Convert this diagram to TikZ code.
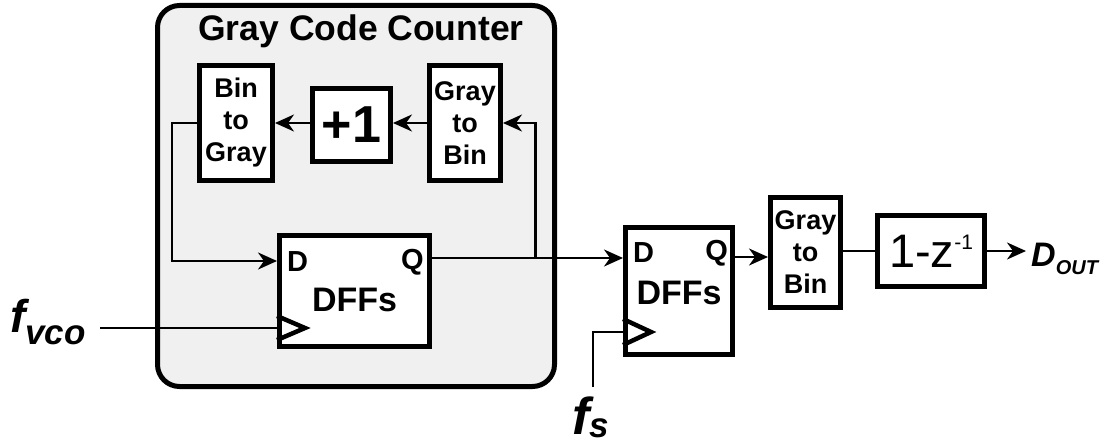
\documentclass[tikz,border=0pt]{standalone}
\usepackage{fontspec}
\setmainfont{Liberation Sans}
\usetikzlibrary{arrows.meta,calc}
\definecolor{panel}{HTML}{F0F0F0}
\newcommand{\myfs}[2]{\fontsize{#1}{#2}\selectfont}
\begin{document}
\begin{tikzpicture}[x=1pt,y=-1pt,
  blk/.style={draw, line width=5pt, fill=white, inner sep=0pt, align=center},
  small/.style={font=\bfseries\myfs{27}{32}},
  wire/.style={line width=2.2pt},
  arr/.style={wire,-{Stealth[length=19pt,width=17pt,inset=6pt]}},
  clk/.style={line width=4.5pt, line join=miter},
  lbl/.style={font=\bfseries\myfs{29}{29}, inner sep=0pt},
]
\useasboundingbox (0,0) rectangle (1110,446);
% counter panel
\node[draw, line width=5pt, rounded corners=22pt, fill=panel, minimum width=397pt, minimum height=381pt] (gcc) at (356,196) {};
\node[font=\bfseries\myfs{35.5}{35.5}] (title) at (361,31) {Gray Code Counter};
% blocks
\node[blk, small, minimum width=73pt, minimum height=115pt] (btg) at (236,123) {Bin\\to\\Gray};
\node[blk, font=\bfseries\myfs{52}{52}, minimum width=78pt, minimum height=73pt] (plus) at (351.5,125) {+1};
\node[blk, small, minimum width=71pt, minimum height=115pt] (gtb1) at (465,123) {Gray\\to\\Bin};
\node[blk, minimum width=150pt, minimum height=111pt] (dff1) at (354.5,291) {};
\node[blk, minimum width=107pt, minimum height=127pt] (dff2) at (679,291) {};
\node[blk, small, minimum width=70pt, minimum height=110pt] (gtb2) at (805.5,252.5) {Gray\\to\\Bin};
\node[blk, font=\myfs{47}{47}, minimum width=107pt, minimum height=70pt] (dz) at (931,251) {1-z\raisebox{18pt}{\myfs{21}{21}-1}};
% DFF labels
\node[lbl, anchor=west] (d1) at ($(dff1.west)+(10,-29)$) {D};
\node[lbl, anchor=east] (q1) at ($(dff1.east)+(-8,-29)$) {Q};
\node[font=\bfseries\myfs{34}{34}] (t1) at ($(dff1.center)+(0,9)$) {DFFs};
\node[lbl, anchor=west] (d2) at ($(dff2.west)+(10,-38)$) {D};
\node[lbl, anchor=east] (q2) at ($(dff2.east)+(-7,-38)$) {Q};
\node[font=\bfseries\myfs{34}{34}] (t2) at ($(dff2.center)+(0,2)$) {DFFs};
% external labels
\node[anchor=base west, inner sep=0pt, font=\bfseries\itshape\myfs{46}{46}] (fvco) at (10,332) {f\raisebox{-12pt}{\myfs{35}{35}vco}};
\node[anchor=base west, inner sep=0pt, font=\bfseries\itshape\myfs{52}{52}] (fs) at (572,434) {f\raisebox{-3pt}{\myfs{35}{35}s}};
\node[anchor=base west, inner sep=0pt, font=\bfseries\itshape\myfs{34}{34}] (dout) at (1031,266) {D\raisebox{-8pt}{\myfs{20}{20}OUT}};
% wires
\draw[arr] (gtb1.west) -- (plus.east |- gtb1.west);
\draw[arr] (plus.west |- btg.east) -- (btg.east);
\coordinate (d1in) at ($(dff1.west)+(0,-30)$);
\draw[arr] (btg.west) -- ++(-25,0) |- (d1in);
\coordinate (q1out) at ($(dff1.east)+(0,-33)$);
\coordinate (d2in) at ($(dff2.west)+(0,-33)$);
\draw[arr] (q1out) -- (d2in);
\coordinate (br) at ($(q1out)+(103.5,0)$);
\draw[arr] (br) |- (gtb1.east);
\coordinate (q2out) at ($(dff2.east)+(0,-34)$);
\draw[arr] (q2out) -- (q2out -| gtb2.west);
\draw[wire] (gtb2.east |- dz.west) -- (dz.west);
\draw[arr] (dz.east) -- ([xshift=-5pt]dz.east -| dout.west);
% clocks
\coordinate (ck1) at ($(dff1.west)+(0,37)$);
\draw[wire] ([xshift=14pt]fvco.east |- ck1) -- (ck1);
\draw[clk] ($(ck1)+(0,-12)$) -- ($(ck1)+(28,0)$) -- ($(ck1)+(0,12)$);
\coordinate (ck2) at ($(dff2.west)+(0,41)$);
\draw[wire] ($(fs.north west)+(21,-9)$) |- (ck2);
\draw[clk] ($(ck2)+(0,-13)$) -- ($(ck2)+(28,0)$) -- ($(ck2)+(0,13)$);
\end{tikzpicture}
\end{document}
